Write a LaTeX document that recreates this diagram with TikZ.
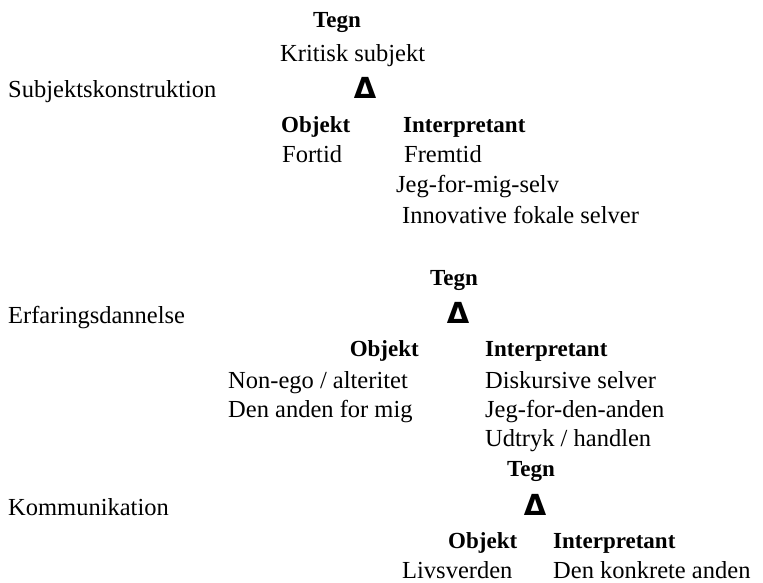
\documentclass[tikz,border=0pt]{standalone}
\usepackage{fontspec}
\setmainfont{Liberation Serif}
\newfontfamily\deltafont{DejaVu Sans}
\usepackage{tikz}

\tikzset{
  txt/.style={inner sep=0pt,anchor=base west,font=\fontsize{24.5}{30}\selectfont},
  hd/.style={txt,font=\fontsize{23}{30}\selectfont\bfseries},
  tri/.style={inner sep=0pt,anchor=base,font=\fontsize{29}{30}\selectfont\deltafont\bfseries}
}

\begin{document}
\begin{tikzpicture}[x=1pt,y=-1pt]
        \useasboundingbox (0,0) rectangle (763,583);
        \node[hd]  (tegnA)   at (313,28)  {Tegn};
        \node[txt] (kritisk) at (280,62)  {Kritisk subjekt};
        \node[tri] (deltaA)  at (365,99)  {Δ};
        \node[txt] (subj)    at (8,98)    {Subjektskonstruktion};
        \node[hd]  (objA)    at (281,133) {Objekt};
        \node[hd]  (intA)    at (403,133) {Interpretant};
        \node[txt] (fortid)  at (282,163) {Fortid};
        \node[txt] (fremtid) at (404,163) {Fremtid};
        \node[txt] (jegA)    at (396,192) {Jeg-for-mig-selv};
        \node[txt] (innov)   at (402,223) {Innovative fokale selver};
        \node[hd]  (tegnB)   at (430,285) {Tegn};
        \node[tri] (deltaB)  at (458,323) {Δ};
        \node[txt] (erf)     at (8,323)   {Erfaringsdannelse};
        \node[hd,anchor=base east] (objB) at (419,356) {Objekt};
        \node[hd]  (intB)    at (485,356) {Interpretant};
        \node[txt] (nonego)  at (228,388) {Non-ego / alteritet};
        \node[txt] (disk)    at (485,388) {Diskursive selver};
        \node[txt] (anden)   at (228,417) {Den anden for mig};
        \node[txt] (jegB)    at (485,417) {Jeg-for-den-anden};
        \node[txt] (udtryk)  at (485,446) {Udtryk / handlen};
        \node[hd]  (tegnC)   at (507,476) {Tegn};
        \node[tri] (deltaC)  at (535,515) {Δ};
        \node[txt] (komm)    at (8,515)   {Kommunikation};
        \node[hd]  (objC)    at (448,548) {Objekt};
        \node[hd]  (intC)    at (553,548) {Interpretant};
        \node[txt] (livs)    at (402,578) {Livsverden};
        \node[txt] (konkret) at (553,578) {Den konkrete anden};
      \end{tikzpicture}
\end{document}
